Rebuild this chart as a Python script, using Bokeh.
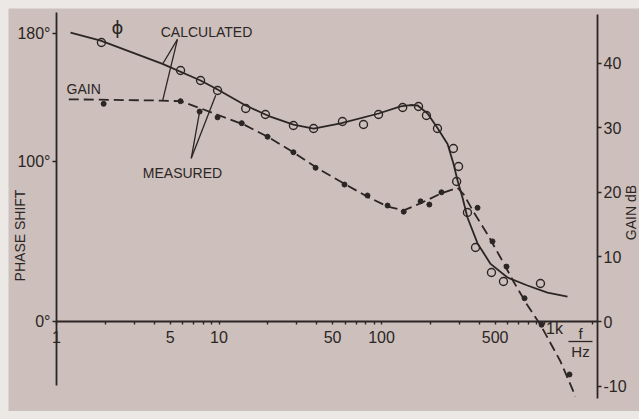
import math
import numpy as np
from bokeh.plotting import figure
from bokeh.models import LinearAxis, Range1d, FixedTicker, Label
from bokeh.embed import file_html
from bokeh.resources import INLINE

# ---------------- data ----------------
# calculated phase (solid line)
calc_phase_f = [1.22, 1.87, 4.49, 7.7, 9.8, 14.6, 20.7, 28.7, 38.2, 56, 96, 131, 151, 167,
                192, 221, 255, 277, 294, 315, 338, 390, 469, 596, 791, 1051, 1395]
calc_phase = [180.6, 175.6, 161, 150.6, 145, 135, 128, 123, 120.6, 123.8, 130, 134.4, 135.3, 135,
              130, 121, 111, 98.8, 88, 77.5, 65, 48.8, 36, 27.5, 22.5, 18, 15.6]

# measured phase (open circles)
meas_phase_f = [1.89, 5.8, 7.7, 9.8, 14.6, 19.3, 28.7, 38.2, 57.5, 77.5, 95.9, 135, 169,
                189, 221, 277, 298, 290, 338, 379, 475, 563, 951]
meas_phase = [174.4, 156.9, 150.6, 144.4, 133.1, 129.4, 122.5, 120.6, 125, 123.1, 129.4, 133.75, 134.4,
              128.75, 120.6, 108.1, 96.9, 87.5, 68.1, 46.25, 30.6, 25, 23.75]

# calculated gain in dB (dashed line)
calc_gain_f = [1.19, 4.37, 5.8, 7.7, 9.8, 14.2, 19.9, 28.7, 40.4, 58.4, 82, 109, 137, 174,
               231, 294, 320, 368, 449, 540, 649, 791, 951, 1264, 1563]
calc_gain = [34.4, 34.2, 34.1, 33.0, 32.0, 30.5, 28.6, 26.2, 23.7, 21.4, 19.3, 17.8, 17.2, 18.3,
             19.8, 20.7, 19.7, 17.0, 13.5, 9.9, 6.2, 2.5, -0.5, -6.2, -11.6]

# measured gain in dB (filled dots)
meas_gain_f = [1.95, 5.8, 7.6, 9.8, 13.8, 19.9, 28.7, 39.3, 59.2, 82, 109, 137, 174, 197,
               234, 390, 482, 588, 759, 966, 1435]
meas_gain = [33.7, 34.1, 32.5, 31.6, 30.7, 28.6, 26.2, 23.8, 21.2, 19.5, 17.95, 17.0, 18.6, 18.1,
             20.0, 17.6, 12.4, 8.5, 3.6, -0.5, -8.2]

# axes ticks / labels
x_major = [1, 5, 10, 50, 100, 500]
x_minor = [2, 3, 4, 6, 7, 8, 9, 20, 30, 40, 60, 70, 80, 90,
           200, 300, 400, 600, 700, 800, 900, 1000, 2000]
phase_ticks = [0, 100, 180]
phase_labels = ["0°", "100°", "180°"]
gain_ticks = [-10, 0, 10, 20, 30, 40]
gain_labels = ["-10", "0", "10", "20", "30", "40"]

# ---------------- styling / geometry ----------------
BG = "#cdbfbc"
INK = "#2b2624"
FONT = "Liberation Sans"

W, H = 631, 403
DECADE = 162.5          # px per decade of frequency
X1 = 48                 # px position of f = 1
PX_DEG = 1.6            # px per degree
Y0 = 313                # px position (from top) of the zero line
K = 6.46 / PX_DEG       # degrees per dB on the page

f_lo, f_hi = 10 ** (-X1 / DECADE), 10 ** ((W - X1) / DECADE)
ph_hi, ph_lo = Y0 / PX_DEG, -(H - Y0) / PX_DEG
g_lo, g_hi = ph_lo / K, ph_hi / K
f_right_axis = 10 ** (541 / DECADE)

p = figure(width=W, height=H, x_axis_type="log",
           x_range=Range1d(f_lo, f_hi), y_range=Range1d(ph_lo, ph_hi),
           output_backend="svg", toolbar_location=None,
           min_border=0, background_fill_color=BG, border_fill_color=BG)
p.outline_line_color = None
p.xgrid.visible = False
p.ygrid.visible = False
p.extra_y_ranges = {"gain": Range1d(g_lo, g_hi)}

# x axis drawn on the 0 line
xa = p.xaxis[0]
xa.fixed_location = 0
xa.bounds = (1, f_right_axis)
xa.ticker = FixedTicker(ticks=x_major, minor_ticks=x_minor)
xa.major_label_overrides = {t: str(t) for t in x_major}
xa.axis_line_color = INK
xa.axis_line_width = 1.8
xa.major_tick_line_color = INK
xa.minor_tick_line_color = INK
xa.major_tick_line_width = 1.4
xa.minor_tick_line_width = 1.4
xa.major_tick_in = 0
xa.major_tick_out = 3
xa.minor_tick_in = 0
xa.minor_tick_out = 3
xa.major_label_standoff = 6
xa.major_label_text_font = FONT
xa.major_label_text_font_size = "16px"
xa.major_label_text_color = INK

ya = p.yaxis[0]
ya.fixed_location = 1
ya.ticker = FixedTicker(ticks=phase_ticks)
ya.major_label_overrides = dict(zip(phase_ticks, phase_labels))
ya.bounds = (-40, 193.1)

ga = LinearAxis(y_range_name="gain", fixed_location=f_right_axis)
ga.ticker = FixedTicker(ticks=gain_ticks)
ga.major_label_overrides = dict(zip(gain_ticks, gain_labels))
ga.bounds = (-11.9, 47.5)
p.add_layout(ga, "right")

for ax in [ya, ga]:
    ax.axis_line_color = INK
    ax.axis_line_width = 1.8
    ax.major_tick_line_color = INK
    ax.major_tick_line_width = 1.4
    ax.minor_tick_line_color = None
    ax.major_tick_in = 0
    ax.major_tick_out = 4
    ax.major_label_standoff = 2
    ax.major_label_text_font = FONT
    ax.major_label_text_font_size = "16px"
    ax.major_label_text_color = INK

# ---------------- curves and points ----------------
p.line(calc_phase_f, calc_phase, line_color=INK, line_width=1.8)
p.line(calc_gain_f, calc_gain, y_range_name="gain", line_color=INK, line_width=1.8,
       line_dash="10 5")
p.scatter(meas_phase_f, meas_phase, marker="circle", size=8, fill_color=None,
          line_color=INK, line_width=1.4)
p.scatter(meas_gain_f, meas_gain, y_range_name="gain", marker="circle", size=5,
          fill_color=INK, line_color=INK)

# ---------------- leader lines ----------------
def lf(f):
    return np.log10(f)

def toward(ax_, ay_, bx, by, frac):
    lx = lf(ax_) + frac * (lf(bx) - lf(ax_))
    return 10 ** lx, ay_ + frac * (by - ay_)

calc_anchor = (5.55, 176.3)
calc_target_f = 4.5
t1 = (calc_target_f, float(np.interp(lf(calc_target_f), lf(np.array(calc_phase_f)), calc_phase)))
t2 = (calc_target_f, K * float(np.interp(lf(calc_target_f), lf(np.array(calc_gain_f)), calc_gain)))

meas_anchor = (6.75, 102.0)
m1 = toward(meas_anchor[0], meas_anchor[1], meas_gain_f[2], K * meas_gain[2], 0.96)
m2 = toward(meas_anchor[0], meas_anchor[1], meas_phase_f[3], meas_phase[3], 0.93)

x0s = [calc_anchor[0], calc_anchor[0], meas_anchor[0], meas_anchor[0]]
y0s = [calc_anchor[1], calc_anchor[1], meas_anchor[1], meas_anchor[1]]
x1s = [t1[0], t2[0], m1[0], m2[0]]
y1s = [t1[1], t2[1], m1[1], m2[1]]
p.segment(x0s, y0s, x1s, y1s, line_color=INK, line_width=1.3)

# fraction bar of f / Hz
p.segment([1415], [-12.5], [1988], [-12.5], line_color=INK, line_width=1.3)

# ---------------- texts ----------------
def lab(x, y, text, size="14px", font=FONT, angle=0.0):
    p.add_layout(Label(x=x, y=y, text=text,
                       text_font=font, text_font_size=size,
                       text_color=INK, text_align="center", text_baseline="middle",
                       angle=angle))

lab(8.38, 181.0, "CALCULATED")
lab(2.37, 183.5, "ϕ", size="18px", font="DejaVu Sans")
lab(1.47, 145.6, "GAIN")
lab(5.96, 93.1, "MEASURED")
lab(1161, -4.4, "1k", size="16px")
lab(1677, -7.8, "f", size="15px")
lab(1677, -18.9, "Hz", size="15px")
lab(0.592, 53.75, "PHASE SHIFT", angle=math.pi / 2)
lab(3430, 68.1, "GAIN dB", angle=math.pi / 2)

html = file_html(p, INLINE)
html = html.replace("</head>",
                    "<style>html body{margin:8px 0 0 8px !important;background:#ebe8e6;"
                    "overflow:visible;}</style></head>", 1)
open("out.html", "w").write(html)
